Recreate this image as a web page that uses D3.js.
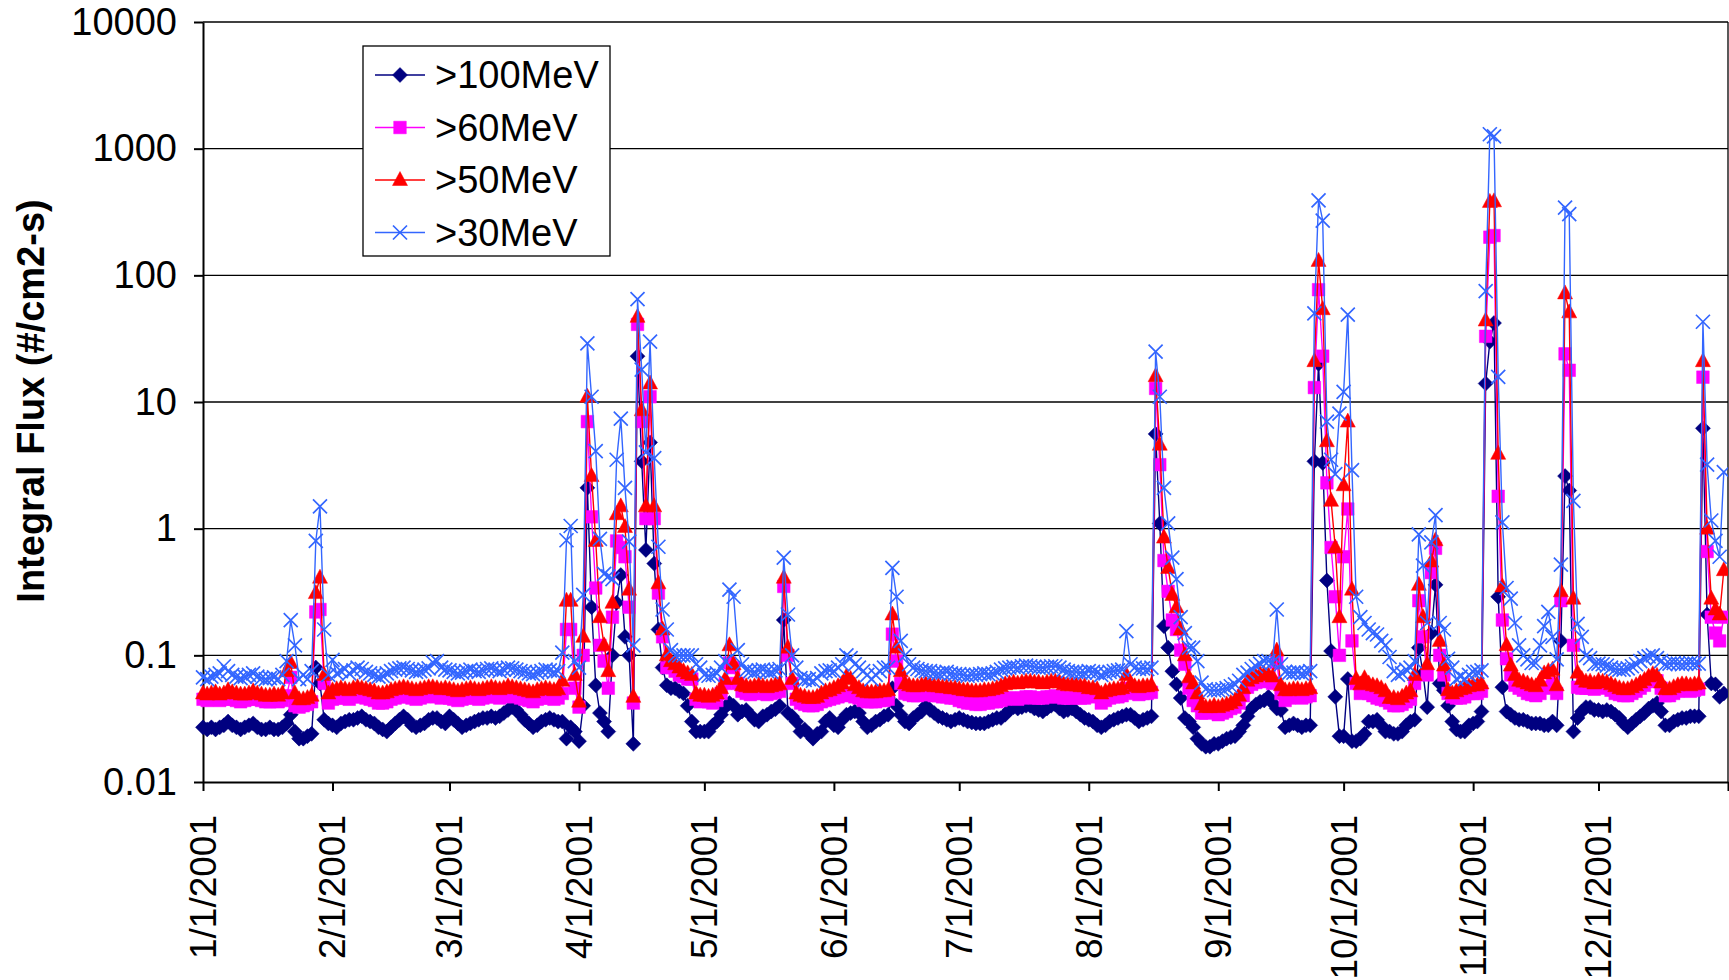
<!DOCTYPE html>
<html>
<head>
<meta charset="utf-8">
<script src="https://cdn.jsdelivr.net/npm/d3@7"></script>
<style>
body { margin: 0; background: #fff; }
svg { font-family: "Liberation Sans", Arial, sans-serif; }
</style>
</head>
<body>
<div id="flux-chart"></div>
<script>
// daily integral proton flux, 1/1/2001 .. 12/31/2001 (one value per day)
var p100 = [
  .027,.026,.027,.026,.027,.028,.030,.028,.027,.026,.027,.028,.029,.027,.026,.026,.027,.026,.026,.027,.029,.034,.025,.022,.022,.023,.024,.080,.060,.031,.029,
  .028,.027,.029,.030,.031,.031,.032,.033,.031,.030,.029,.027,.026,.025,.027,.029,.031,.033,.031,.028,.027,.028,.029,.031,.032,.032,.030,.029,
  .033,.031,.029,.027,.028,.029,.030,.031,.032,.032,.033,.032,.033,.035,.037,.039,.037,.034,.031,.029,.027,.028,.030,.031,.032,.031,.030,.030,.022,.027,.025,
  .021,.040,2.1,.24,.058,.035,.030,.025,.10,.26,.43,.14,.10,.020,23,3.4,.68,4.8,.53,.16,.080,.058,.055,.055,.052,.050,.040,.030,.025,.025,
  .025,.025,.028,.030,.034,.039,.042,.040,.034,.036,.037,.034,.031,.030,.033,.034,.036,.0375,.040,.19,.035,.033,.030,.025,.026,.024,.022,.024,.025,.030,.032,
  .028,.027,.031,.034,.035,.036,.035,.030,.027,.028,.030,.031,.033,.034,.055,.040,.034,.030,.029,.032,.034,.036,.040,.037,.035,.033,.032,.031,.030,.031,
  .032,.031,.030,.0295,.029,.029,.029,.030,.031,.032,.032,.034,.037,.039,.038,.039,.040,.040,.038,.037,.036,.038,.040,.041,.038,.036,.037,.038,.036,.034,.032,
  .031,.030,.028,.027,.028,.030,.031,.032,.033,.034,.034,.032,.030,.031,.032,.033,5.6,1.1,.17,.115,.075,.059,.046,.032,.030,.027,.022,.020,.019,.019,.020,
  .020,.021,.022,.0226,.023,.025,.028,.033,.038,.041,.043,.044,.047,.042,.038,.037,.027,.028,.029,.028,.027,.028,.028,3.4,20,3.3,.39,.108,.047,.023,
  .023,.065,.021,.021,.022,.024,.030,.030,.031,.028,.025,.025,.024,.024,.025,.028,.030,.031,.115,.072,.039,.15,.36,.060,.053,.040,.030,.026,.025,.025,.028,
  .029,.030,.036,14,30,42,.29,.056,.036,.034,.032,.031,.031,.030,.029,.029,.029,.028,.028,.030,.028,.13,2.6,2.0,.025,.032,.036,.039,.039,.037,
  .037,.036,.037,.036,.034,.032,.029,.027,.029,.031,.033,.035,.038,.040,.042,.036,.028,.028,.030,.031,.032,.032,.033,.033,.033,6.2,.21,.060,.059,.047,.050
];
var p60 = [
  .045,.044,.045,.046,.044,.045,.047,.045,.044,.043,.044,.045,.046,.045,.044,.043,.043,.044,.043,.044,.048,.067,.040,.039,.040,.041,.043,.22,.23,.060,.042,
  .045,.046,.047,.046,.045,.047,.048,.047,.046,.045,.044,.042,.042,.043,.045,.046,.047,.048,.047,.046,.045,.046,.047,.048,.048,.047,.046,.047,
  .046,.045,.044,.045,.046,.047,.046,.045,.046,.047,.048,.047,.046,.047,.049,.048,.047,.046,.045,.044,.043,.045,.046,.047,.046,.045,.046,.050,.16,.16,.055,
  .039,.10,7.0,1.24,.34,.12,.090,.055,.20,.80,.71,.60,.24,.042,41,7.0,1.2,11,1.2,.31,.14,.080,.080,.075,.070,.068,.065,.065,.045,.043,
  .044,.043,.042,.044,.050,.060,.087,.080,.060,.052,.050,.049,.050,.051,.050,.049,.050,.051,.052,.35,.10,.060,.045,.042,.041,.040,.040,.041,.043,.044,.045,
  .046,.047,.048,.050,.049,.047,.046,.044,.043,.043,.043,.044,.044,.045,.147,.090,.060,.050,.049,.048,.048,.049,.050,.049,.048,.048,.047,.047,.046,.046,
  .044,.043,.042,.042,.041,.041,.042,.042,.043,.043,.044,.045,.046,.046,.045,.046,.047,.047,.046,.046,.046,.047,.047,.048,.047,.046,.046,.046,.047,.046,.046,
  .048,.048,.047,.042,.044,.046,.047,.047,.048,.055,.052,.050,.049,.050,.050,.051,12.8,3.2,.56,.32,.19,.16,.11,.085,.055,.044,.040,.035,.035,.036,.036,
  .034,.035,.036,.038,.039,.042,.048,.056,.059,.061,.063,.063,.062,.060,.088,.050,.044,.046,.047,.047,.046,.047,.048,13,77,23,2.3,.71,.29,.10,
  .60,1.43,.13,.060,.050,.055,.050,.048,.046,.045,.044,.042,.040,.040,.041,.043,.045,.060,.27,.14,.070,.45,.70,.10,.070,.050,.047,.046,.046,.047,.050,
  .050,.050,.052,33,200,206,1.8,.19,.094,.070,.058,.055,.053,.050,.049,.048,.050,.055,.056,.060,.050,.27,24,17.8,.12,.056,.055,.055,.055,.054,
  .058,.056,.055,.053,.050,.049,.048,.048,.050,.052,.055,.058,.062,.065,.063,.055,.048,.048,.050,.052,.053,.053,.052,.053,.054,15.7,.66,.20,.15,.13,.20
];
var p50 = [
  .050,.049,.050,.051,.049,.050,.053,.051,.050,.049,.049,.050,.052,.050,.049,.048,.048,.049,.048,.050,.075,.087,.050,.045,.045,.046,.048,.31,.41,.070,.050,
  .053,.054,.055,.054,.053,.055,.056,.055,.054,.053,.052,.050,.050,.051,.053,.054,.055,.056,.055,.054,.053,.054,.055,.056,.056,.055,.054,.055,
  .054,.053,.052,.053,.054,.055,.054,.053,.054,.055,.056,.055,.054,.055,.057,.056,.055,.054,.053,.052,.051,.053,.054,.055,.054,.053,.054,.063,.27,.27,.070,
  .043,.14,11,2.6,.80,.20,.12,.075,.26,1.3,1.5,1.03,.33,.047,47,8.6,1.5,14,1.5,.37,.16,.10,.090,.085,.080,.075,.072,.070,.050,.048,
  .048,.047,.048,.050,.055,.065,.12,.085,.065,.058,.057,.056,.057,.058,.057,.056,.057,.058,.059,.41,.115,.065,.050,.048,.047,.046,.046,.047,.050,.052,.053,
  .055,.057,.060,.068,.065,.058,.055,.052,.051,.051,.051,.052,.052,.053,.21,.115,.075,.060,.058,.057,.057,.058,.059,.058,.057,.057,.056,.056,.055,.055,
  .054,.053,.053,.052,.052,.052,.053,.053,.054,.055,.057,.059,.060,.061,.060,.061,.062,.062,.061,.061,.060,.061,.062,.062,.061,.059,.058,.058,.058,.057,.057,
  .055,.055,.054,.050,.052,.053,.054,.054,.055,.070,.060,.057,.056,.057,.057,.058,16,4.6,.85,.49,.30,.24,.16,.10,.067,.060,.050,.041,.039,.039,.040,
  .039,.040,.041,.042,.044,.048,.055,.063,.066,.068,.071,.071,.070,.068,.109,.058,.053,.053,.054,.054,.053,.054,.055,21,130,54,4.9,1.66,.71,.20,
  2.2,7.0,.33,.065,.059,.066,.060,.058,.057,.055,.052,.046,.046,.045,.047,.050,.052,.070,.36,.20,.085,.55,.81,.13,.083,.053,.050,.052,.054,.055,.057,
  .058,.058,.060,44,380,384,3.9,.35,.12,.083,.070,.063,.062,.060,.058,.057,.063,.072,.075,.077,.058,.32,72,51,.28,.073,.065,.062,.062,.060,
  .063,.062,.061,.059,.057,.055,.054,.054,.056,.058,.061,.064,.068,.071,.069,.061,.054,.054,.056,.058,.059,.059,.058,.059,.060,21,1.0,.28,.23,.21,.47
];
var p30 = [
  .067,.065,.068,.070,.072,.082,.075,.070,.068,.066,.068,.070,.072,.068,.066,.065,.066,.067,.065,.070,.090,.19,.12,.065,.070,.065,.075,.80,1.5,.16,.070,
  .092,.072,.075,.078,.072,.076,.080,.078,.074,.072,.070,.068,.069,.072,.075,.077,.079,.080,.078,.076,.074,.075,.077,.079,.088,.090,.080,.077,
  .076,.074,.072,.073,.075,.077,.075,.074,.076,.078,.079,.077,.075,.077,.080,.079,.077,.075,.074,.072,.071,.073,.075,.077,.076,.074,.075,.105,.81,1.05,.090,
  .080,.30,29,11,4.1,.83,.44,.42,.40,3.5,7.4,2.1,.79,.12,65,18,4.0,30,3.6,.72,.23,.16,.11,.10,.10,.10,.10,.10,.085,.080,
  .070,.069,.070,.072,.080,.090,.33,.29,.11,.085,.076,.075,.074,.076,.077,.075,.074,.076,.078,.59,.21,.10,.080,.066,.064,.065,.063,.066,.072,.075,.076,
  .075,.080,.085,.100,.095,.085,.080,.075,.070,.065,.070,.075,.080,.080,.49,.29,.13,.100,.085,.080,.078,.076,.075,.075,.073,.072,.073,.074,.072,.071,
  .071,.070,.069,.070,.070,.071,.072,.071,.072,.074,.077,.079,.080,.081,.080,.082,.083,.082,.081,.080,.080,.081,.082,.082,.080,.077,.075,.074,.074,.073,.073,
  .075,.074,.073,.070,.072,.074,.075,.076,.077,.155,.085,.080,.078,.079,.078,.080,25,11,2.1,1.1,.59,.40,.20,.15,.115,.115,.090,.061,.054,.053,.053,
  .053,.054,.055,.057,.059,.063,.070,.073,.078,.082,.086,.090,.090,.088,.23,.085,.074,.073,.073,.074,.072,.073,.075,50,390,270,7.0,3.5,2.7,8.1,
  12,49,2.9,.29,.20,.18,.16,.15,.146,.13,.12,.097,.075,.070,.072,.077,.080,.090,.90,.51,.18,.78,1.28,.18,.16,.094,.080,.065,.068,.065,.070,
  .074,.074,.076,75,1300,1250,15.8,1.12,.34,.28,.18,.12,.10,.093,.087,.087,.12,.17,.22,.14,.093,.52,342,304,1.66,.177,.14,.10,.095,.085,
  .086,.085,.083,.080,.078,.077,.077,.079,.082,.085,.090,.095,.098,.100,.095,.090,.085,.086,.087,.086,.085,.086,.087,.086,.086,43,3.2,1.16,.80,.60,2.8
];

var seriesNames = [">100MeV", ">60MeV", ">50MeV", ">30MeV"];
var seriesColors = ["#000080", "#ff00ff", "#ff0000", "#3366ff"];
var seriesShapes = ["diamond", "square", "triangle", "cross"];
var yTicks = [0.01, 0.1, 1, 10, 100, 1000, 10000];
var monthLabels = ["1/1/2001", "2/1/2001", "3/1/2001", "4/1/2001", "5/1/2001", "6/1/2001",
                   "7/1/2001", "8/1/2001", "9/1/2001", "10/1/2001", "11/1/2001", "12/1/2001"];

function markerPath(shape) {
    if (shape == "diamond") return "M0,-7.5L7.5,0L0,7.5L-7.5,0Z";
    if (shape == "square") return "M-6.3,-6.3H6.3V6.3H-6.3Z";
    if (shape == "triangle") return "M0,-8.5L7.5,5.5L-7.5,5.5Z";
    return "M-7,-7L7,7M-7,7L7,-7";
}

function flux_chart() {
    var W = 1729, H = 980;
    var margin = { top: 22, right: 1, bottom: 198, left: 203 };
    var width = W - margin.left - margin.right;
    var height = H - margin.top - margin.bottom;

    var svg = d3.select("#flux-chart").append("svg")
        .attr("width", W).attr("height", H);
    var g = svg.append("g")
        .attr("transform", "translate(" + margin.left + "," + margin.top + ")");

    var x = d3.scaleTime()
        .domain([new Date(2001, 0, 1), new Date(2002, 0, 1)])
        .range([0, width]);
    var y = d3.scaleLog()
        .domain([0.01, 10000])
        .range([height, 0]);

    // gridlines
    g.selectAll(".grid").data(yTicks.slice(1)).enter().append("line")
        .attr("x1", 0).attr("x2", width)
        .attr("y1", function (d) { return y(d); })
        .attr("y2", function (d) { return y(d); })
        .style("stroke", "#000").style("stroke-width", 1.3);

    // right edge of plot area
    g.append("line").attr("x1", width).attr("x2", width).attr("y1", 0).attr("y2", height)
        .style("stroke", "#000").style("stroke-width", 1.3);

    // y axis
    var yAxis = g.append("g")
        .call(d3.axisLeft(y).tickValues(yTicks).tickFormat(function (d) { return String(d); })
            .tickSizeInner(9).tickSizeOuter(0).tickPadding(17));
    yAxis.select(".domain").style("stroke", "#000").style("stroke-width", 2);
    yAxis.selectAll(".tick line").style("stroke-width", 2);
    yAxis.selectAll("text").style("font-size", "38px").style("fill", "#000")
        .attr("font-family", "Liberation Sans, Arial, sans-serif");

    // x axis: month ticks
    var monthDates = d3.range(13).map(function (i) { return new Date(2001, i, 1); });
    var xAxis = g.append("g")
        .attr("transform", "translate(0," + height + ")")
        .call(d3.axisBottom(x).tickValues(monthDates).tickFormat("")
            .tickSizeInner(9).tickSizeOuter(0));
    xAxis.select(".domain").style("stroke", "#000").style("stroke-width", 2);
    xAxis.selectAll(".tick line").style("stroke-width", 2);

    g.selectAll(".xlab").data(monthLabels).enter().append("text")
        .attr("transform", function (d, i) {
            return "translate(" + x(monthDates[i]) + "," + (height + 33) + ") rotate(-90)";
        })
        .attr("dy", "0.35em")
        .attr("text-anchor", "end")
        .style("font-size", "37px")
        .text(function (d) { return d; });

    // y title
    svg.append("text")
        .attr("transform", "translate(31," + (margin.top + height / 2 - 1) + ") rotate(-90)")
        .attr("text-anchor", "middle")
        .attr("dy", "0.35em")
        .style("font-size", "38px")
        .style("font-weight", "bold")
        .text("Integral Flux (#/cm2-s)");

    // series
    svg.append("clipPath").attr("id", "plot-clip").append("rect")
        .attr("x", -9).attr("y", -9).attr("width", width + 9).attr("height", height + 18);
    var plot = g.append("g").attr("clip-path", "url(#plot-clip)");

    var allSeries = [p100, p60, p50, p30];
    allSeries.forEach(function (values, k) {
        var pts = values.map(function (v, i) { return { date: new Date(2001, 0, 1 + i), value: v }; });
        var line = d3.line()
            .x(function (d) { return x(d.date); })
            .y(function (d) { return y(d.value); });
        plot.append("path").datum(pts)
            .attr("d", line)
            .style("fill", "none")
            .style("stroke", seriesColors[k])
            .style("stroke-width", 1.4);
        var isCross = seriesShapes[k] == "cross";
        plot.selectAll(".m" + k).data(pts).enter().append("path")
            .attr("transform", function (d) { return "translate(" + x(d.date) + "," + y(d.value) + ")"; })
            .attr("d", markerPath(seriesShapes[k]))
            .style("fill", isCross ? "none" : seriesColors[k])
            .style("stroke", seriesColors[k])
            .style("stroke-width", isCross ? 1.7 : 0.5);
    });

    // legend
    var lg = svg.append("g").attr("transform", "translate(363,46)");
    lg.append("rect").attr("width", 247).attr("height", 210)
        .style("fill", "#fff").style("stroke", "#000").style("stroke-width", 1.3);
    seriesNames.forEach(function (name, k) {
        var yy = 29 + k * 52.5;
        lg.append("line").attr("x1", 12).attr("x2", 62).attr("y1", yy).attr("y2", yy)
            .style("stroke", seriesColors[k]).style("stroke-width", 1.4);
        lg.append("path").attr("transform", "translate(37," + yy + ")")
            .attr("d", markerPath(seriesShapes[k]))
            .style("fill", seriesShapes[k] == "cross" ? "none" : seriesColors[k])
            .style("stroke", seriesColors[k])
            .style("stroke-width", seriesShapes[k] == "cross" ? 1.7 : 0.5);
        lg.append("text").attr("x", 72).attr("y", yy).attr("dy", "0.35em")
            .style("font-size", "38px")
            .text(name);
    });
}

flux_chart();
</script>
</body>
</html>
